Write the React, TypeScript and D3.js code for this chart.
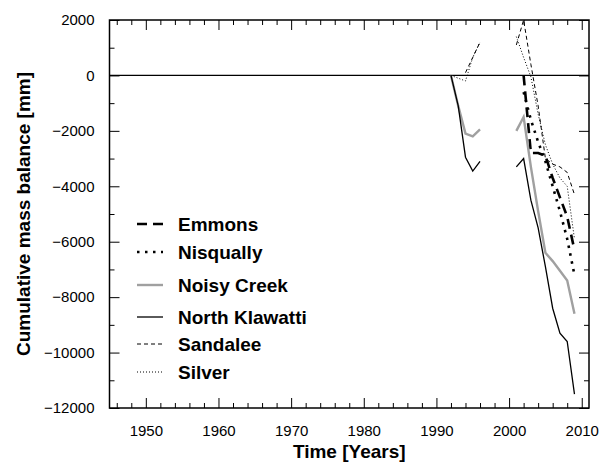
import React, { useEffect, useRef } from 'react';
import * as d3 from 'd3';

// years shared by every series, null = no measurement
const years = [1992, 1993, 1994, 1995, 1996, 1997, 1998, 1999, 2000, 2001, 2002, 2003, 2004, 2005, 2006, 2007, 2008, 2009];

const emmons = [null, null, null, null, null, null, null, null, null, null, 0, -2800, -2800, -2900, -3700, -4400, -5100, -6300];
const nisqually = [null, null, null, null, null, null, null, null, null, null, -600, -1600, -2400, -3100, -4000, -4900, -5900, -7200];
const noisyCreek = [0, -1100, -2100, -2200, -1950, null, null, null, null, -2000, -1500, -3300, -4900, -6400, -6700, -7050, -7400, -8600];
const northKlawatti = [0, -1100, -2950, -3450, -3100, null, null, null, null, -3300, -3000, -4500, -5500, -6900, -8400, -9300, -9600, -11500];
const sandalee = [null, null, 100, 650, 1200, null, null, null, null, 1100, 2000, 400, -1100, -3000, -3200, -3300, -3500, -4300];
const silver = [0, -100, -200, 650, 1200, null, null, null, null, 1400, 650, -50, -1400, -2500, -3200, -3700, -4000, -5900];

const xMajorTicks = [1950, 1960, 1970, 1980, 1990, 2000, 2010];
const yMajorTicks = [2000, 0, -2000, -4000, -6000, -8000, -10000, -12000];

const font = '"Liberation Sans", Arial, sans-serif';

const seriesList = [
  { name: 'Emmons', values: emmons, color: '#000', width: 2.6, dash: '10,6' },
  { name: 'Nisqually', values: nisqually, color: '#000', width: 2.6, dash: '2.5,5.5' },
  { name: 'Noisy Creek', values: noisyCreek, color: '#a0a0a0', width: 2.4, dash: null },
  { name: 'North Klawatti', values: northKlawatti, color: '#000', width: 1.3, dash: null },
  { name: 'Sandalee', values: sandalee, color: '#000', width: 1, dash: '4,3' },
  { name: 'Silver', values: silver, color: '#000', width: 1, dash: '1,2' },
];
const legendRows = [224, 252, 285, 317, 344, 372];

function Axis({ axis, transform, labels }: any) {
  const ref = useRef<SVGGElement>(null);
  useEffect(() => {
    if (!ref.current) return;
    const g = d3.select(ref.current);
    g.call(axis);
    g.select('.domain').remove();
    g.selectAll('line').attr('stroke', '#000').attr('stroke-width', 1);
    g.selectAll('text')
      .style('font-family', font)
      .style('font-size', '15px')
      .attr('fill', '#000');
    if (!labels) g.selectAll('text').remove();
  }, [axis]);
  return <g ref={ref} transform={transform} />;
}

export default function App() {
  const left = 109.5, right = 589, top = 20, bottom = 408;

  const x = d3.scaleLinear().domain([1945, 2011]).range([left, right]);
  const y = d3.scaleLinear().domain([-12000, 2000]).range([bottom, top]);

  const xMinor = d3.range(1946, 2011, 2).filter((v) => v % 10 !== 0);
  const yMinor = d3.range(-11000, 2000, 2000);

  const line = d3.line<number | null>()
    .defined((d) => d !== null)
    .x((_, i) => x(years[i]))
    .y((d) => y(d as number));

  const axes = [
    { a: d3.axisBottom(x).tickValues(xMajorTicks).tickSize(-10).tickPadding(17).tickFormat(d3.format('d')), t: `translate(0,${bottom})`, l: true },
    { a: d3.axisBottom(x).tickValues(xMinor).tickSize(-5).tickFormat(() => ''), t: `translate(0,${bottom})`, l: false },
    { a: d3.axisTop(x).tickValues(xMajorTicks).tickSize(-10), t: `translate(0,${top})`, l: false },
    { a: d3.axisTop(x).tickValues(xMinor).tickSize(-5), t: `translate(0,${top})`, l: false },
    { a: d3.axisLeft(y).tickValues(yMajorTicks).tickSize(-10).tickPadding(15).tickFormat(d3.format('d')), t: `translate(${left},0)`, l: true },
    { a: d3.axisLeft(y).tickValues(yMinor).tickSize(-5), t: `translate(${left},0)`, l: false },
    { a: d3.axisRight(y).tickValues(yMajorTicks).tickSize(-10), t: `translate(${right},0)`, l: false },
    { a: d3.axisRight(y).tickValues(yMinor).tickSize(-5), t: `translate(${right},0)`, l: false },
  ];

  return (
    <svg width={613} height={464} style={{ position: 'absolute', left: 0, top: 0, background: '#fff' }}>
      {axes.map((ax, i) => (
        <Axis key={i} axis={ax.a} transform={ax.t} labels={ax.l} />
      ))}
      <line x1={left} x2={right} y1={y(0)} y2={y(0)} stroke="#000" strokeWidth={1.3} />

      {seriesList.map((s) => (
        <path
          key={s.name}
          d={line(s.values) || ''}
          fill="none"
          stroke={s.color}
          strokeWidth={s.width}
          strokeDasharray={s.dash || undefined}
        />
      ))}

      <rect x={left} y={top} width={right - left} height={bottom - top} fill="none" stroke="#000" strokeWidth={1.5} />

      <g>
        {seriesList.map((s, i) => (
          <g key={s.name} transform={`translate(0,${legendRows[i]})`}>
            <line x1={137} x2={163} y1={0} y2={0} stroke={s.color} strokeWidth={s.width} strokeDasharray={s.dash || undefined} />
            <text x={178} dy="0.35em" fontFamily={font} fontWeight="bold" fontSize={19}>{s.name}</text>
          </g>
        ))}
      </g>

      <text x={(left + right) / 2} y={458} textAnchor="middle" fontFamily={font} fontWeight="bold" fontSize={19}>Time [Years]</text>
      <text transform={`translate(30,${(top + bottom) / 2}) rotate(-90)`} textAnchor="middle" fontFamily={font} fontWeight="bold" fontSize={19}>Cumulative mass balance [mm]</text>
    </svg>
  );
}
